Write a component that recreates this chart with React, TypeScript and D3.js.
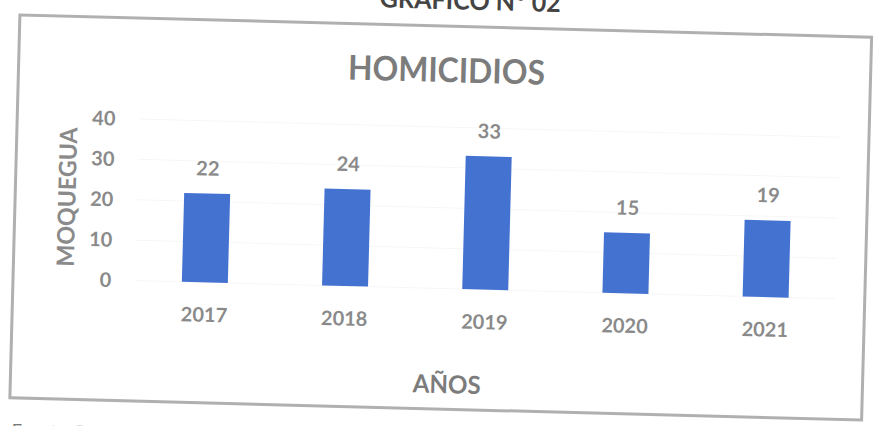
import React from "react";
import * as d3 from "d3";

const years = ["2017", "2018", "2019", "2020", "2021"];
const values = [22, 24, 33, 15, 19];
const yTicks = [0, 10, 20, 30, 40];
const chartTitle = "HOMICIDIOS";
const yTitle = "MOQUEGUA";
const xTitle = "AÑOS";
const topCaption = "GRÁFICO N° 02";
const sourceNote = "Fuente: Región Policial Moquegua";

const W = 874;
const H = 426;
const FONT = "Lato, 'Open Sans', 'Noto Sans', sans-serif";
const GRAY = "#8a8a8a";
const BLUE = "#4472d0";

export default function App() {
  const x = d3
    .scaleBand<string>()
    .domain(years)
    .range([136.5, 837.7])
    .paddingInner(0.672)
    .paddingOuter(0.336);
  const y = d3.scaleLinear().domain([0, 40]).range([288.5, 126.9]);

  return (
    <svg
      width={W}
      height={H}
      style={{ position: "absolute", left: 0, top: 0, background: "#fff" }}
    >
      <rect x={0} y={0} width={W} height={H} fill="#fff" />
      <g transform="rotate(1.5, 440.75, 217.5)" fontFamily={FONT}>
        <text
          x={464.6}
          y={9}
          textAnchor="middle"
          fontSize={26}
          fontWeight={700}
          fill="#444"
          textLength={181}
          lengthAdjust="spacingAndGlyphs"
        >
          {topCaption}
        </text>
        <rect
          x={14.75}
          y={26}
          width={852}
          height={383}
          fill="#fff"
          stroke="#b0b0b0"
          strokeWidth={3}
        />
        {yTicks.map((t) => (
          <line
            key={"g" + t}
            x1={136.5}
            x2={837.7}
            y1={y(t)}
            y2={y(t)}
            stroke="#f7f7f7"
            strokeWidth={1}
          />
        ))}
        <text
          x={442.6}
          y={82}
          textAnchor="middle"
          fontSize={34}
          fontWeight={700}
          fill="#7c7c7c"
          textLength={197}
          lengthAdjust="spacingAndGlyphs"
        >
          {chartTitle}
        </text>
        {yTicks.map((t) => (
          <text
            key={"t" + t}
            x={113}
            y={y(t)}
            dy="0.36em"
            textAnchor="end"
            fontSize={20}
            fontWeight={700}
            fill={GRAY}
          >
            {t}
          </text>
        ))}
        <text
          transform="translate(66.5, 206.8) rotate(-90)"
          textAnchor="middle"
          dy="0.36em"
          fontSize={24}
          fontWeight={700}
          fill={GRAY}
          textLength={139}
          lengthAdjust="spacingAndGlyphs"
        >
          {yTitle}
        </text>
        {years.map((yr, i) => (
          <rect
            key={"b" + yr}
            x={x(yr)}
            y={y(values[i])}
            width={x.bandwidth()}
            height={y(0) - y(values[i])}
            fill={BLUE}
          />
        ))}
        {years.map((yr, i) => (
          <text
            key={"v" + yr}
            x={(x(yr) ?? 0) + x.bandwidth() / 2}
            y={y(values[i]) - 18}
            textAnchor="middle"
            fontSize={20}
            fontWeight={700}
            fill={GRAY}
          >
            {values[i]}
          </text>
        ))}
        {years.map((yr) => (
          <text
            key={"y" + yr}
            x={(x(yr) ?? 0) + x.bandwidth() / 2}
            y={328}
            textAnchor="middle"
            fontSize={20}
            fontWeight={700}
            fill={GRAY}
          >
            {yr}
          </text>
        ))}
        <text
          x={451}
          y={393}
          textAnchor="middle"
          fontSize={25}
          fontWeight={700}
          fill="#7c7c7c"
          textLength={68}
          lengthAdjust="spacingAndGlyphs"
        >
          {xTitle}
        </text>
        <text x={17.3} y={448} fontSize={18} fill="#777">
          {sourceNote}
        </text>
      </g>
    </svg>
  );
}
